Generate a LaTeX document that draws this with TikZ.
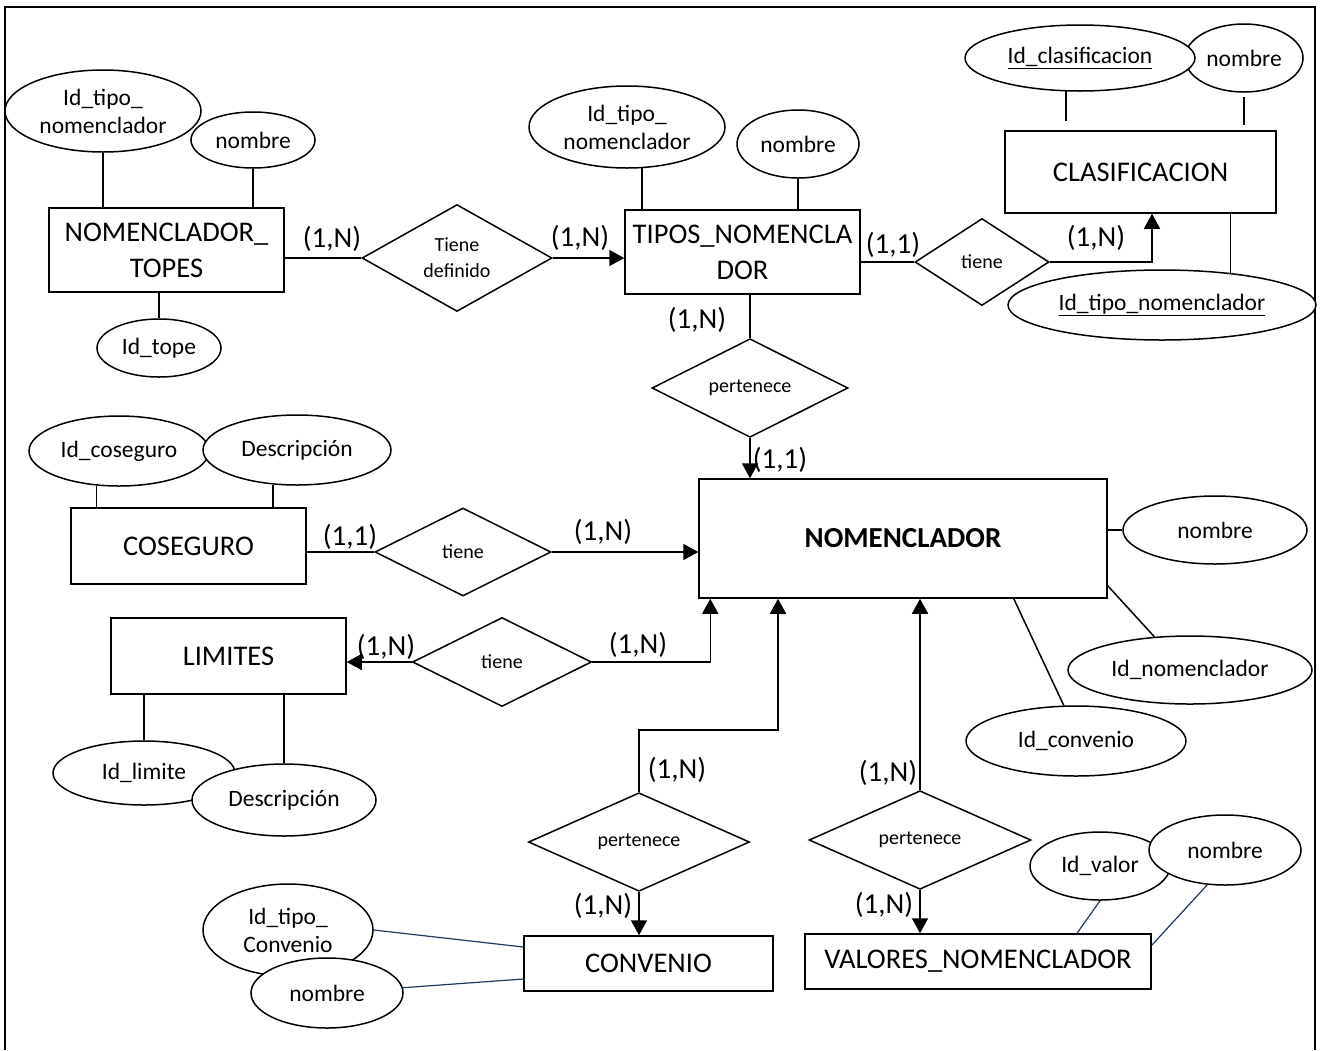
\documentclass[tikz,border=0pt]{standalone}
\usepackage{fontspec}
\setmainfont{Carlito}
\usetikzlibrary{shapes.geometric,arrows.meta,calc}
\definecolor{navyline}{RGB}{31,56,93}

\begin{document}
\begin{tikzpicture}[x=1pt,y=-1pt,line width=1.5pt,
  entity/.style={draw,rectangle,inner sep=0pt,align=center,font=\fontsize{28.5}{36}\selectfont},
  attr/.style={draw,fill=white,ellipse,inner sep=0pt,align=center,font=\fontsize{23.5}{28}\selectfont},
  rel/.style={draw,diamond,inner sep=0pt,align=center,font=\fontsize{20}{26}\selectfont},
  card/.style={inner sep=0pt,font=\fontsize{29}{34}\selectfont},
  arr/.style={-{Triangle[length=15pt,width=16pt]}},
  navy/.style={draw=navyline,line width=1.2pt}]

\useasboundingbox (0,0) rectangle (1324,1050);
% open frame
\draw (5,1050) -- (5,7) -- (1315,7) -- (1315,1050);

% entities
\node[entity,minimum width=235pt,minimum height=84pt] (topes) at (166.5,250) {NOMENCLADOR\_\\TOPES};
\node[entity,minimum width=235pt,minimum height=84pt] (tipos) at (742.5,252) {TIPOS\_NOMENCLA\\DOR};
\node[entity,minimum width=271pt,minimum height=82pt] (clasif) at (1140.5,172) {CLASIFICACION};
\node[entity,minimum width=408pt,minimum height=119pt,font=\fontsize{29}{36}\selectfont\bfseries] (nomen) at (903,538.5) {NOMENCLADOR};
\node[entity,minimum width=235pt,minimum height=76pt] (coseg) at (188.5,546) {COSEGURO};
\node[entity,minimum width=235pt,minimum height=76pt] (limit) at (228.5,656) {LIMITES};
\node[entity,minimum width=249pt,minimum height=55pt] (conv) at (648.5,963.5) {CONVENIO};
\node[entity,minimum width=346pt,minimum height=55pt] (valnom) at (978,961.5) {VALORES\_NOMENCLADOR};

% attributes
\node[attr,minimum width=196pt,minimum height=82pt] (a_tn1) at (103,111) {Id\_tipo\_\\nomenclador};
\node[attr,minimum width=124pt,minimum height=56pt] (a_nom1) at (253,140) {nombre};
\node[attr,minimum width=124pt,minimum height=58pt] (a_tope) at (159,348) {Id\_tope};
\node[attr,minimum width=196pt,minimum height=82pt] (a_tn2) at (627,127) {Id\_tipo\_\\nomenclador};
\node[attr,minimum width=122pt,minimum height=68pt] (a_nom2) at (798,144) {nombre};
\node[attr,minimum width=118pt,minimum height=68pt] (a_nom3) at (1244,58) {nombre};
\node[attr,minimum width=230pt,minimum height=66pt] (a_cla) at (1080,58) {\underline{Id\_clasificacion}};
\node[attr,minimum width=308pt,minimum height=70pt] (a_tn3) at (1162,305) {\underline{Id\_tipo\_nomenclador}};
\node[attr,minimum width=180pt,minimum height=70pt] (a_cos) at (119,451) {Id\_coseguro};
\node[attr,minimum width=188pt,minimum height=70pt] (a_des1) at (297,450) {Descripción};
\node[attr,minimum width=182pt,minimum height=64pt] (a_lim) at (144,773) {Id\_limite};
\node[attr,minimum width=184pt,minimum height=72pt] (a_des2) at (284,800) {Descripción};
\node[attr,minimum width=184pt,minimum height=68pt] (a_nom4) at (1215,530) {nombre};
\node[attr,minimum width=244pt,minimum height=68pt] (a_idn) at (1190,670) {Id\_nomenclador};
\node[attr,minimum width=220pt,minimum height=70pt] (a_idc) at (1076,741) {Id\_convenio};
\node[attr,minimum width=170pt,minimum height=92pt] (a_tc) at (288,930) {Id\_tipo\_\\Convenio};
\node[attr,minimum width=152pt,minimum height=70pt] (a_nom5) at (327,993) {nombre};
\node[attr,minimum width=140pt,minimum height=68pt] (a_val) at (1100,866) {Id\_valor};
\node[attr,minimum width=152pt,minimum height=70pt] (a_nom6) at (1225,850) {nombre};

% relationships
\node[rel,minimum width=190pt,minimum height=104pt] (r_def) at (457,258) {Tiene\\definido};
\node[rel,minimum width=134pt,minimum height=87pt] (r_cla) at (982,262) {tiene};
\node[rel,minimum width=196pt,minimum height=88pt] (r_per1) at (750,388) {pertenece};
\node[rel,minimum width=176pt,minimum height=88pt] (r_cos) at (463,552) {tiene};
\node[rel,minimum width=179pt,minimum height=89pt] (r_lim) at (502,662) {tiene};
\node[rel,minimum width=221pt,minimum height=89pt] (r_conv) at (639,842) {pertenece};
\node[rel,minimum width=222pt,minimum height=88pt] (r_val) at (920,840) {pertenece};

% relationship connectors
\draw (r_def.west -| topes.east) -- (r_def.west);
\draw[arr] (r_def.east) -- (r_def.east -| tipos.west);
\draw (r_cla.west -| tipos.east) -- (r_cla.west);
\draw[arr] (r_cla.east) -| ([xshift=11.5pt]clasif.south);
\draw (r_per1.north) -- (r_per1.north |- tipos.south);
\draw[arr] (r_per1.south) -- (r_per1.south |- nomen.north);
\draw (r_cos.west -| coseg.east) -- (r_cos.west);
\draw[arr] (r_cos.east) -- (r_cos.east -| nomen.west);
\draw[arr] (r_lim.west) -- (r_lim.west -| limit.east);
\draw[arr] (r_lim.east) -| ([xshift=12pt]nomen.south west);
\coordinate (bend) at (778,730);
\draw[arr] (r_conv.north) |- (bend) -- (bend |- nomen.south);
\draw[arr] (r_conv.south) -- (r_conv.south |- conv.north);
\draw[arr] (r_val.north) -- (r_val.north |- nomen.south);
\draw[arr] (r_val.south) -- (r_val.south |- valnom.north);

% attribute links
\draw (a_tn1.south) -- (a_tn1.south |- topes.north);
\draw (a_nom1.south) -- (a_nom1.south |- topes.north);
\draw (a_tope.north) -- (a_tope.north |- topes.south);
\draw (a_tn2.290) -- (a_tn2.290 |- tipos.north);
\draw (a_nom2.south) -- (a_nom2.south |- tipos.north);
\draw[shorten >=9pt] (a_cla.247) -- (a_cla.247 |- clasif.north);
\draw[shorten <=4pt,shorten >=5pt] (a_nom3.south) -- (a_nom3.south |- clasif.north);
\draw (a_tn3.25) -- (a_tn3.25 |- clasif.south);
\draw (a_cos.237) -- (a_cos.237 |- coseg.north);
\draw (a_des1.235) -- (a_des1.235 |- coseg.north);
\draw (a_lim.north) -- (a_lim.north |- limit.south);
\draw (a_des2.north) -- (a_des2.north |- limit.south);
\draw (a_nom4.west) -- (a_nom4.west -| nomen.east);
\draw (a_idn.137) -- ([yshift=13pt]nomen.south east);
\draw (a_idc.109) -- ([xshift=-94pt]nomen.south east);
\draw[navy] (a_tc.east) -- ([yshift=16.5pt]conv.west);
\draw[navy] (a_nom5.4) -- ([yshift=-15.5pt]conv.west);
\draw[navy] (a_val.south) -- ([xshift=99pt]valnom.north);
\draw[navy] (a_nom6.243) -- ([yshift=-12pt]valnom.north east);

% cardinalities
\node[card] (c1) at (332,239) {(1,N)};
\node[card] (c2) at (580,238) {(1,N)};
\node[card] (c3) at (893,245) {(1,1)};
\node[card] (c4) at (1096,238) {(1,N)};
\node[card] (c5) at (697,320) {(1,N)};
\node[card] (c6) at (780,460) {(1,1)};
\node[card] (c7) at (350,537) {(1,1)};
\node[card] (c8) at (603,532) {(1,N)};
\node[card] (c9) at (386,647) {(1,N)};
\node[card] (c10) at (638,645) {(1,N)};
\node[card] (c11) at (677,770) {(1,N)};
\node[card] (c12) at (888,773) {(1,N)};
\node[card] (c13) at (603,906) {(1,N)};
\node[card] (c14) at (884,905) {(1,N)};
\end{tikzpicture}
\end{document}
